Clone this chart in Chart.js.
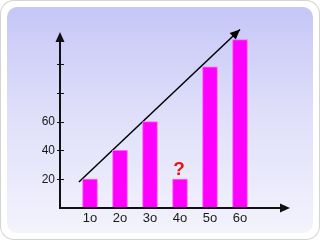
<!DOCTYPE html>
<html>
<head>
<meta charset="utf-8">
<script src="https://cdn.jsdelivr.net/npm/chart.js@4"></script>
<style>
  html, body { margin: 0; padding: 0; background: #fff; }
  #frame {
    position: relative; width: 320px; height: 240px; overflow: hidden;
    border-radius: 14px; background: #fff; box-shadow: inset 0 0 0 1px #d4d4d4;
  }
  #panel {
    position: absolute; left: 7px; top: 7px; right: 7px; bottom: 7px; border-radius: 10px;
    background: linear-gradient(#c6c6f8, #dedefa 45%, #f3f3fd);
  }
  canvas { position: absolute; left: 0; top: 0; }
</style>
</head>
<body>
<div id="frame">
  <div id="panel"></div>
  <canvas id="chart" width="320" height="240"></canvas>
</div>
<script>
const categories = ['1o', '2o', '3o', '4o', '5o', '6o'];
const barValues = [20, 40, 60, 20, 98, 117];
const yTickValues = [20, 40, 60, 80, 100];
const yTickLabels = ['20', '40', '60', '', ''];
const trendX = [-0.37, 5];
const trendY = [18, 124];
const markerIndex = 3;
const markerText = '?';

const FONT = "'Liberation Sans', Arial, sans-serif";

function arrowHead(ctx, x, y, angle, len, half) {
  ctx.save();
  ctx.translate(x, y);
  ctx.rotate(angle);
  ctx.beginPath();
  ctx.moveTo(0, 0);
  ctx.lineTo(-len, -half);
  ctx.lineTo(-len, half);
  ctx.closePath();
  ctx.fill();
  ctx.restore();
}

// axis lines with arrows, cross ticks, trend arrow head and the "?" marker
const decorations = {
  id: 'decorations',
  afterDatasetsDraw(chart) {
    const { ctx, chartArea: a, scales } = chart;
    ctx.save();
    ctx.strokeStyle = '#111';
    ctx.fillStyle = '#111';
    ctx.lineWidth = 2;

    ctx.beginPath();
    ctx.moveTo(a.left, a.bottom);
    ctx.lineTo(a.right - 6, a.bottom);
    ctx.moveTo(a.left, a.bottom + 1);
    ctx.lineTo(a.left, a.top + 10);
    ctx.stroke();
    arrowHead(ctx, a.right, a.bottom, 0, 10, 4.5);
    arrowHead(ctx, a.left, a.top + 4, -Math.PI / 2, 10, 4.5);

    ctx.lineWidth = 1;
    ctx.beginPath();
    yTickValues.forEach(v => {
      const y = Math.round(scales.y.getPixelForValue(v)) + 0.5;
      ctx.moveTo(a.left - 3, y);
      ctx.lineTo(a.left + 4, y);
    });
    ctx.stroke();

    const pts = chart.getDatasetMeta(1).data;
    const p0 = pts[pts.length - 2], p1 = pts[pts.length - 1];
    ctx.fillStyle = '#000';
    arrowHead(ctx, p1.x, p1.y, Math.atan2(p1.y - p0.y, p1.x - p0.x), 10, 4.5);

    const bar = chart.getDatasetMeta(0).data[markerIndex];
    ctx.fillStyle = '#ee1111';
    ctx.font = 'bold 19px ' + FONT;
    ctx.textAlign = 'center';
    ctx.textBaseline = 'alphabetic';
    ctx.fillText(markerText, bar.x - 1, bar.y - 4);
    ctx.restore();
  }
};

new Chart(document.getElementById('chart'), {
  type: 'bar',
  data: {
    datasets: [{
      data: categories.map((c, i) => ({ x: i, y: barValues[i] })),
      backgroundColor: '#ff00ff',
      borderColor: '#ff66ff',
      borderWidth: 1,
      barThickness: 15
    }, {
      type: 'line',
      data: trendX.map((x, i) => ({ x: x, y: trendY[i] })),
      borderColor: '#000',
      borderWidth: 1.5,
      pointRadius: 0,
      clip: false
    }]
  },
  options: {
    responsive: false,
    animation: false,
    layout: { padding: { left: 0, top: 28, right: 30, bottom: 0 } },
    plugins: { legend: { display: false }, tooltip: { enabled: false } },
    scales: {
      x: {
        type: 'linear',
        offset: false,
        min: -1,
        max: 6.667,
        afterBuildTicks: s => { s.ticks = categories.map((c, i) => ({ value: i })); },
        afterFit: s => { s.height = 32; },
        grid: { display: false, drawTicks: false, offset: false },
        border: { display: false },
        ticks: {
          callback: v => categories[Math.round(v)],
          font: { family: FONT, size: 13 },
          color: '#1a1a1a',
          padding: 3,
          maxRotation: 0,
          autoSkip: false
        }
      },
      y: {
        min: 0,
        max: 125,
        afterBuildTicks: s => { s.ticks = yTickValues.map(v => ({ value: v })); },
        afterFit: s => { s.width = 60; },
        grid: { display: false, drawTicks: false },
        border: { display: false },
        ticks: {
          callback: (v, i) => yTickLabels[i],
          font: { family: FONT, size: 12 },
          color: '#1a1a1a',
          padding: 5,
          autoSkip: false
        }
      }
    }
  },
  plugins: [decorations]
});
</script>
</body>
</html>
